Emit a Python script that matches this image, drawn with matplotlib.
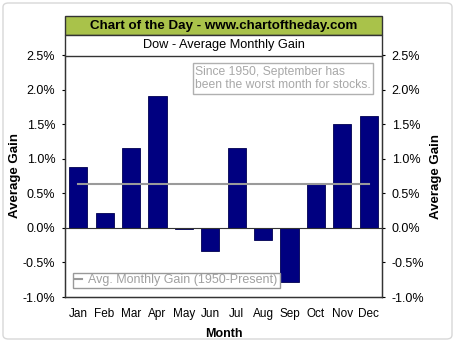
import numpy as np
import matplotlib.pyplot as plt
from matplotlib.patches import Rectangle, FancyBboxPatch

plt.rcParams['font.family'] = ['Liberation Sans', 'DejaVu Sans']

# average monthly gain of the Dow since 1950, percent
months = ['Jan', 'Feb', 'Mar', 'Apr', 'May', 'Jun',
          'Jul', 'Aug', 'Sep', 'Oct', 'Nov', 'Dec']
gain = [0.88, 0.21, 1.16, 1.91, -0.02, -0.34,
        1.15, -0.18, -0.79, 0.64, 1.50, 1.62]
avg_gain = 0.64
yticks = [-1.0, -0.5, 0.0, 0.5, 1.0, 1.5, 2.0, 2.5]

W, H = 455, 342
fig = plt.figure(figsize=(W / 100, H / 100), dpi=100)

# outer rounded frame
fig.add_artist(FancyBboxPatch((3 / W, 3 / H), 449 / W, 336 / H,
                              boxstyle='round,pad=0,rounding_size=0.012',
                              transform=fig.transFigure, facecolor='white',
                              edgecolor='#d8d8d8', lw=1, zorder=-5))

ax = fig.add_axes([65 / W, 1 - 297 / H, 317 / W, 242 / H])
x = np.arange(len(months))
ax.bar(x, gain, width=0.69, color='#000080', edgecolor='#000050', lw=0.6, zorder=2)
ax.axhline(0, color='#333333', lw=0.8, zorder=3)
ax.plot([x[0], x[-1]], [avg_gain, avg_gain], color='#9a9a9a', lw=1.5, zorder=3,
        label='Avg. Monthly Gain (1950-Present)')

ax.set_xlim(-0.5, len(months) - 0.5)
ax.set_ylim(-1.0, 2.5)
ax.set_xticks(x)
ax.set_xticklabels(months, fontsize=8.5)
ax.tick_params(axis='x', length=0, pad=8)
ax.set_yticks(yticks)
ax.set_yticklabels([f'{v:.1f}%' for v in yticks], fontsize=9)
ax.tick_params(axis='y', length=2, direction='out', pad=5)
for s in ax.spines.values():
    s.set_color('#333333')
    s.set_linewidth(1)

ax.set_xlabel('Month', fontsize=9, fontweight='bold', labelpad=6)
ax.set_ylabel('Average Gain', fontsize=9.5, fontweight='bold', labelpad=1)

ax2 = ax.twinx()
ax2.set_ylim(ax.get_ylim())
ax2.set_yticks(yticks)
ax2.set_yticklabels([f'{v:.1f}%' for v in yticks], fontsize=9)
ax2.tick_params(axis='y', length=2, direction='out', pad=5)
ax2.set_ylabel('Average Gain', fontsize=9.5, fontweight='bold', labelpad=4)
for s in ax2.spines.values():
    s.set_color('#333333')

# legend at lower left
leg = ax.legend(loc='lower left', bbox_to_anchor=(0.005, 0.01), fontsize=9,
                handlelength=0.6, handletextpad=0.5, borderpad=0.15,
                fancybox=False, framealpha=1, edgecolor='#999999')
for t in leg.get_texts():
    t.set_color('#a0a0a0')

# note box
ax.text(0.41, 0.955, 'Since 1950, September has\nbeen the worst month for stocks.',
        transform=ax.transAxes, fontsize=8.7, color='#a8a8a8', va='top', ha='left',
        linespacing=1.15,
        bbox=dict(boxstyle='square,pad=0.2', facecolor='white', edgecolor='#b0b0b0'))

# title bands
fig.add_artist(Rectangle((65 / W, 1 - 34.5 / H), 317 / W, 18.5 / H,
                         transform=fig.transFigure, facecolor='#a9c24a',
                         edgecolor='#333333', lw=1))
fig.add_artist(Rectangle((65 / W, 1 - 55.5 / H), 317 / W, 21 / H,
                         transform=fig.transFigure, facecolor='white',
                         edgecolor='#333333', lw=1))
fig.text(223.5 / W, 1 - 25.5 / H, 'Chart of the Day - www.chartoftheday.com',
         fontsize=9.6, fontweight='bold', ha='center', va='center')
fig.text(223.5 / W, 1 - 45 / H, 'Dow - Average Monthly Gain',
         fontsize=9.2, ha='center', va='center')

fig.savefig('out.png', dpi=100)
